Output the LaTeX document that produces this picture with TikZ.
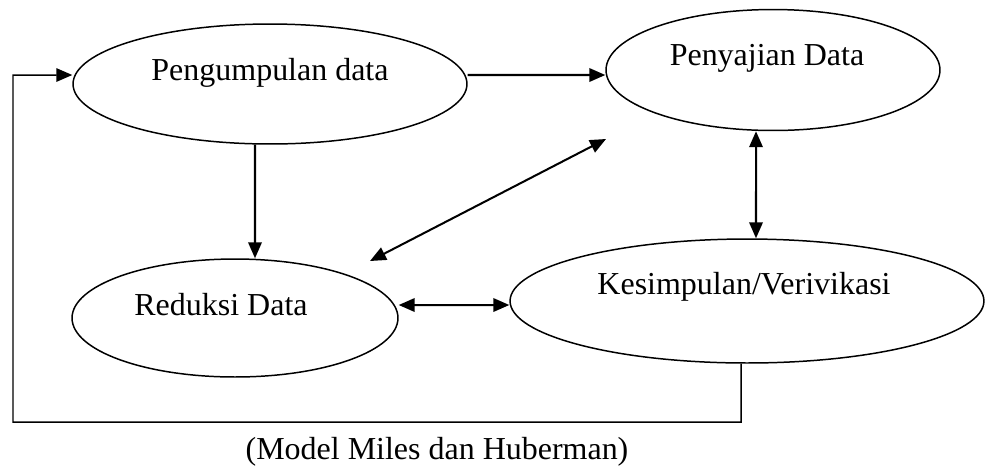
\documentclass[tikz,border=0pt]{standalone}
\usepackage{fontspec}
\setmainfont{Liberation Serif}
\usetikzlibrary{arrows.meta,shapes.geometric}

\tikzset{
  stage/.style={draw,ellipse,line width=.85pt,inner sep=0pt},
  lbl/.style={anchor=base,inner sep=0pt},
  arr/.style={line width=1.15pt,-{Triangle[length=.32cm,width=.27cm]}},
  dbl/.style={line width=1.15pt,{Triangle[length=.32cm,width=.27cm]}-{Triangle[length=.32cm,width=.27cm]}}
}

\begin{document}
\begin{tikzpicture}[x=.02cm,y=-.02cm,font=\fontsize{18.2}{22}\selectfont]
  \useasboundingbox (0,0) rectangle (987,468);
  \node[stage,minimum width=7.88cm,minimum height=2.4cm] (pd) at (270,84) {};
  \node[stage,minimum width=6.68cm,minimum height=2.42cm] (pj) at (773,70) {};
  \node[stage,minimum width=6.52cm,minimum height=2.36cm] (rd) at (235,318) {};
  \node[stage,minimum width=9.48cm,minimum height=2.48cm] (kv) at (747,301) {};
  \node[lbl] (pd-t) at (270,80) {Pengumpulan data};
  \node[lbl] (pj-t) at (767,65) {Penyajian Data};
  \node[lbl] (rd-t) at (221,315) {Reduksi Data};
  \node[lbl] (kv-t) at (744,294) {Kesimpulan/Verivikasi};
  \node[lbl] (cap) at (437,459) {(Model Miles dan Huberman)};
  \coordinate (d1) at (370,261);
  \coordinate (d2) at (606,139);
  \coordinate (fb) at (741,422);
  \coordinate (fl) at (13,422);
  \draw[arr] ([yshift=.18cm]pd.east) -- ([yshift=-.1cm]pj.west);
  \draw[arr] ([xshift=-.3cm]pd.south) -- ([xshift=.4cm]rd.north);
  \draw[dbl] (d1) -- (d2);
  \draw[dbl] ([xshift=-.34cm]pj.south) -- ([xshift=.18cm]kv.north);
  \draw[dbl] ([yshift=.26cm]rd.east) -- ([yshift=-.08cm]kv.west);
  \draw[arr,line width=.85pt] ([xshift=-.12cm]kv.south) -- (fb) -- (fl) |- ([yshift=.18cm]pd.west);
\end{tikzpicture}
\end{document}
